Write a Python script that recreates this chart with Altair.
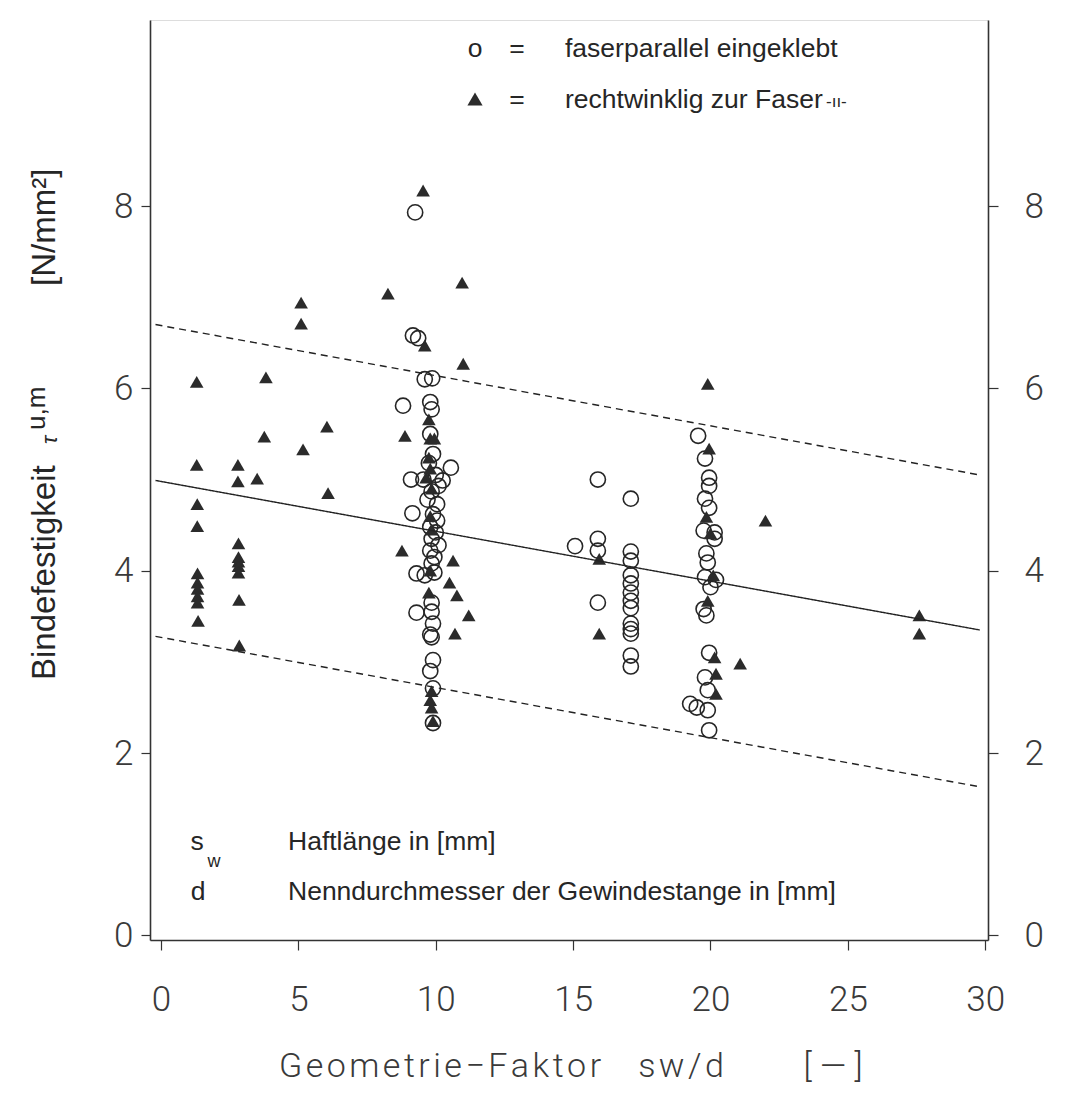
import altair as alt
import pandas as pd

# ---- data ----
# o = faserparallel eingeklebt (open circles)
par_x = [9.25, 9.17, 9.36, 9.6, 9.87, 8.81, 9.8, 9.85, 9.8, 9.9, 10.55, 9.75, 10.0, 9.1, 9.55,
         10.25, 10.1, 9.85, 9.7, 10.05, 9.15, 9.9, 10.05, 9.8, 10.0, 9.85, 10.1, 9.8, 9.95, 9.85,
         9.3, 9.6, 9.95, 9.85, 9.3, 9.85, 9.9, 9.8, 9.85, 9.9, 9.8, 9.9, 9.9,
         15.07, 15.9, 15.9, 15.9, 15.9,
         17.1, 17.1, 17.1, 17.1, 17.1, 17.1, 17.1, 17.1, 17.1, 17.1, 17.1, 17.1, 17.1,
         19.55, 19.8, 19.95, 19.95, 19.8, 19.95, 19.75, 20.15, 20.15, 19.85, 19.9, 19.8,
         20.2, 20.0, 19.75, 19.85, 19.95, 19.8, 19.9, 19.26, 19.5, 19.9, 19.95]
par_y = [7.93, 6.58, 6.55, 6.10, 6.11, 5.81, 5.85, 5.77, 5.50, 5.28, 5.13, 5.18, 5.05, 5.00, 5.00,
         4.99, 4.93, 4.87, 4.78, 4.73, 4.63, 4.62, 4.55, 4.48, 4.42, 4.35, 4.28, 4.22, 4.15, 4.08,
         3.97, 3.95, 3.98, 3.65, 3.54, 3.55, 3.42, 3.30, 3.27, 3.02, 2.90, 2.71, 2.33,
         4.27, 5.00, 4.35, 4.22, 3.65,
         4.79, 4.21, 4.11, 3.95, 3.86, 3.76, 3.67, 3.59, 3.42, 3.36, 3.31, 3.07, 2.95,
         5.48, 5.23, 5.02, 4.93, 4.79, 4.69, 4.44, 4.42, 4.35, 4.19, 4.09, 3.93,
         3.90, 3.82, 3.58, 3.51, 3.10, 2.83, 2.69, 2.54, 2.50, 2.47, 2.25]

# ▲ = rechtwinklig zur Faser eingeklebt (filled triangles)
rw_x = [1.3, 1.3, 1.32, 1.32, 1.33, 1.33, 1.33, 1.33, 1.33, 1.35,
        2.8, 2.8, 2.82, 2.82, 2.82, 2.82, 2.82, 2.84, 2.85,
        3.5, 3.76, 3.82, 5.1, 5.1, 5.17, 6.04, 6.08, 8.26, 8.88, 8.77, 9.54, 9.6, 10.96, 11.0,
        9.75, 9.8, 9.95, 9.75, 9.65, 9.8, 9.85, 9.8, 9.85, 9.8, 9.75, 9.85, 9.8, 9.85, 9.9,
        10.63, 10.5, 10.77, 11.2, 10.7,
        15.95, 15.95,
        19.9, 19.95, 19.85, 20.0, 20.1, 19.9, 20.15, 20.2, 20.2, 21.08, 22.0, 27.6, 27.6]
rw_y = [6.07, 5.16, 4.73, 4.49, 3.97, 3.87, 3.80, 3.72, 3.65, 3.45,
        5.16, 4.98, 4.30, 4.15, 4.10, 4.05, 3.98, 3.68, 3.18,
        5.01, 5.47, 6.12, 6.94, 6.71, 5.33, 5.58, 4.85, 7.04, 5.48, 4.22, 8.17, 6.47, 7.16, 6.27,
        5.66, 5.45, 5.45, 5.24, 5.02, 5.12, 4.90, 4.60, 4.45, 4.00, 3.76, 2.68, 2.58, 2.50, 2.35,
        4.11, 3.87, 3.73, 3.51, 3.31,
        4.13, 3.31,
        6.05, 5.34, 4.59, 4.41, 3.95, 3.67, 3.05, 2.87, 2.65, 2.98, 4.55, 3.51, 3.31]

# regression line and its band
fit_x = [-0.2, 29.8]
fit_mean = [4.99, 3.35]
fit_upper = [6.70, 5.05]
fit_lower = [3.28, 1.63]

x_ticks = [0, 5, 10, 15, 20, 25, 30]
y_ticks = [0, 2, 4, 6, 8]

# ---- styling ----
INK = "#262626"
NUM_FONT = "Roboto"
TXT_FONT = "Liberation Sans"
HS = "\u200a"  # hair space, used to widen the letter spacing of the x title

X = alt.Scale(domain=[-0.4, 30.1], nice=False, zero=False)
Y = alt.Scale(domain=[-0.05, 10.04], nice=False, zero=False)

x_axis = alt.Axis(values=x_ticks, title=None, grid=False, domainColor="#333", domainWidth=1.6,
                  tickColor="#333", tickWidth=1.2, tickSize=10, labelFont=NUM_FONT,
                  labelFontWeight=300, labelFontSize=35, labelColor="#3a3a3a",
                  labelPadding=32, labelFlush=False)
left_axis = alt.Axis(values=y_ticks, orient="left", title=None, grid=False, domainColor="#333",
                     domainWidth=1.6, tickColor="#333", tickWidth=1.2, tickSize=9,
                     labelFont=NUM_FONT, labelFontWeight=300, labelFontSize=35,
                     labelColor="#3a3a3a", labelPadding=8, labelFlush=False)
right_axis = alt.Axis(values=y_ticks, orient="right", title=None, grid=False, domainColor="#333",
                      domainWidth=1.6, tickColor="#333", tickWidth=1.2, tickSize=10,
                      labelFont=NUM_FONT, labelFontWeight=300, labelFontSize=35,
                      labelColor="#3a3a3a", labelPadding=26, labelFlush=False)

par_df = pd.DataFrame({"x": par_x, "y": par_y})
rw_df = pd.DataFrame({"x": rw_x, "y": rw_y})

circles = alt.Chart(par_df).mark_point(shape="circle", filled=False, size=230, strokeWidth=1.6,
                                       color=INK, opacity=1).encode(
    x=alt.X("x:Q", scale=X, axis=x_axis),
    y=alt.Y("y:Q", scale=Y, axis=left_axis),
)
triangles = alt.Chart(rw_df).mark_point(shape="triangle-up", filled=True, size=185,
                                        color="#2b2b2b", opacity=1).encode(
    x=alt.X("x:Q", scale=X, axis=x_axis),
    y=alt.Y("y:Q", scale=Y, axis=left_axis),
)

one = pd.DataFrame({"a": [0]})


def label(text, x, y, size=26.5, font=TXT_FONT, align="left", baseline="alphabetic",
          angle=0, weight=400, style="normal", color=INK):
    return alt.Chart(one).mark_text(
        text=text, align=align, baseline=baseline, angle=angle, font=font,
        fontSize=size, fontWeight=weight, fontStyle=style, color=color
    ).encode(x=alt.value(x), y=alt.value(y))


def spaced(s):
    return HS.join(list(s))


texts = [
    # legend
    label("o", 325, 37, align="center"),
    label("=", 367, 37, align="center"),
    label("faserparallel eingeklebt", 415, 37),
    label("=", 367, 88, align="center"),
    label("rechtwinklig zur Faser", 415, 88),
    label("-ıı-", 676, 87, size=17),
    # symbol notes
    label("s", 47, 830, align="center"),
    label("w", 64, 847, size=18, align="center"),
    label("Haftlänge in [mm]", 138, 830),
    label("d", 48, 880, align="center"),
    label("Nenndurchmesser der Gewindestange in [mm]", 138, 880),
    # y title (rotated)
    label("Bindefestigkeit", -95, 660, size=33, angle=270),
    label("τ", -93, 424, size=22, angle=270, style="italic"),
    label("u,m", -105, 410, size=26, angle=270),
    label("[N/mm²]", -95, 266, size=33, angle=270),
    # x title
    label(spaced("Geometrie−Faktor"), 290, 1047, size=34, font=NUM_FONT, weight=300,
          align="center", baseline="middle", color="#3a3a3a"),
    label(spaced("sw/d"), 531, 1047, size=34, font=NUM_FONT, weight=300, align="center",
          baseline="middle", color="#3a3a3a"),
    label("[  —  ]", 683, 1047, size=34, font=NUM_FONT, weight=300, align="center",
          baseline="middle", color="#3a3a3a"),
]

legend_tri = alt.Chart(one).mark_point(shape="triangle-up", filled=True, size=230,
                                       color="#2b2b2b", opacity=1).encode(
    x=alt.value(325), y=alt.value(79))

left = alt.layer(circles, triangles, legend_tri, *texts)

lines_df = pd.DataFrame({
    "x": fit_x + fit_x + fit_x,
    "y": fit_mean + fit_upper + fit_lower,
    "kind": ["mittel"] * 2 + ["oben"] * 2 + ["unten"] * 2,
})
lines = alt.Chart(lines_df).mark_line(color="#222", strokeWidth=1.4).encode(
    x=alt.X("x:Q", scale=X, axis=x_axis),
    y=alt.Y("y:Q", scale=Y, axis=right_axis),
    detail="kind:N",
    strokeDash=alt.StrokeDash("kind:N", scale=alt.Scale(domain=["mittel", "oben", "unten"],
                                                        range=[[1, 0], [7, 5], [7, 5]]),
                              legend=None),
)

chart = alt.layer(left, lines).resolve_scale(y="independent").properties(
    width=838, height=920,
    autosize=alt.AutoSizeParams(type="none"),
    padding={"left": 142, "top": 12, "right": 66, "bottom": 144},
).configure_view(stroke=None).configure(background="white")

chart.save("out.html", embed_options={"renderer": "svg", "actions": False})
